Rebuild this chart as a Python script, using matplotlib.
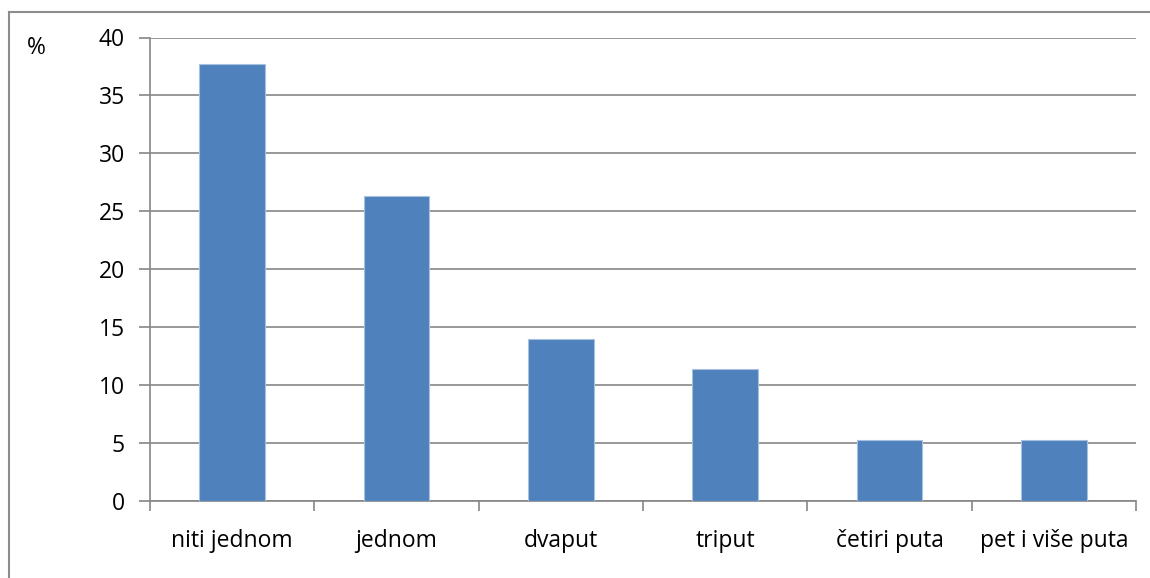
import matplotlib.pyplot as plt
from matplotlib.lines import Line2D

plt.rcParams['font.family'] = ['Open Sans', 'DejaVu Sans']

# chart values
categories = ["niti jednom", "jednom", "dvaput", "triput", "četiri puta", "pet i više puta"]
values = [37.7, 26.3, 14.0, 11.4, 5.3, 5.3]
y_ticks = [0, 5, 10, 15, 20, 25, 30, 35, 40]

W, H = 1150, 578
fs = 16.5
fig = plt.figure(figsize=(W / 100, H / 100), dpi=100)

# axes box in pixel coordinates
left, right, top, bottom = 150, 1136, 37.5, 501
ax = fig.add_axes([left / W, 1 - bottom / H, (right - left) / W, (bottom - top) / H])

grid_col = "#868686"
x = list(range(len(categories)))
ax.bar(x, values, width=0.4, color="#4F81BD", edgecolor="#A7C0DE", linewidth=0.8, zorder=3)

ax.set_xlim(-0.5, len(categories) - 0.5)
ax.set_ylim(0, 40)
ax.set_yticks(y_ticks)
ax.set_yticklabels([str(v) for v in y_ticks], fontsize=fs)
ax.yaxis.grid(True, color=grid_col, linewidth=1.2, zorder=0)
ax.tick_params(axis="y", length=8, width=1.2, color=grid_col, pad=10)

# category labels between boundary ticks
ax.set_xticks([i - 0.5 for i in range(len(categories) + 1)])
ax.set_xticklabels([])
ax.set_xticks(x, minor=True)
ax.set_xticklabels(categories, minor=True, fontsize=fs)
ax.tick_params(axis="x", which="major", length=7, width=1.2, color=grid_col)
ax.tick_params(axis="x", which="minor", length=0, pad=20)

for side in ["top", "right"]:
    ax.spines[side].set_visible(False)
for side in ["left", "bottom"]:
    ax.spines[side].set_color(grid_col)
    ax.spines[side].set_linewidth(1.2)

fig.text(27 / W, 1 - 48 / H, "%", fontsize=fs, va="center", ha="left")

# outer chart frame (left and top only, rest is cut off)
fx, fy = 8.5 / W, 1 - 12 / H
fig.add_artist(Line2D([fx, 1.0], [fy, fy], transform=fig.transFigure, color="#8C8C8C", linewidth=1.5))
fig.add_artist(Line2D([fx, fx], [0.0, fy], transform=fig.transFigure, color="#8C8C8C", linewidth=1.5))

fig.savefig("out.png", dpi=100)
